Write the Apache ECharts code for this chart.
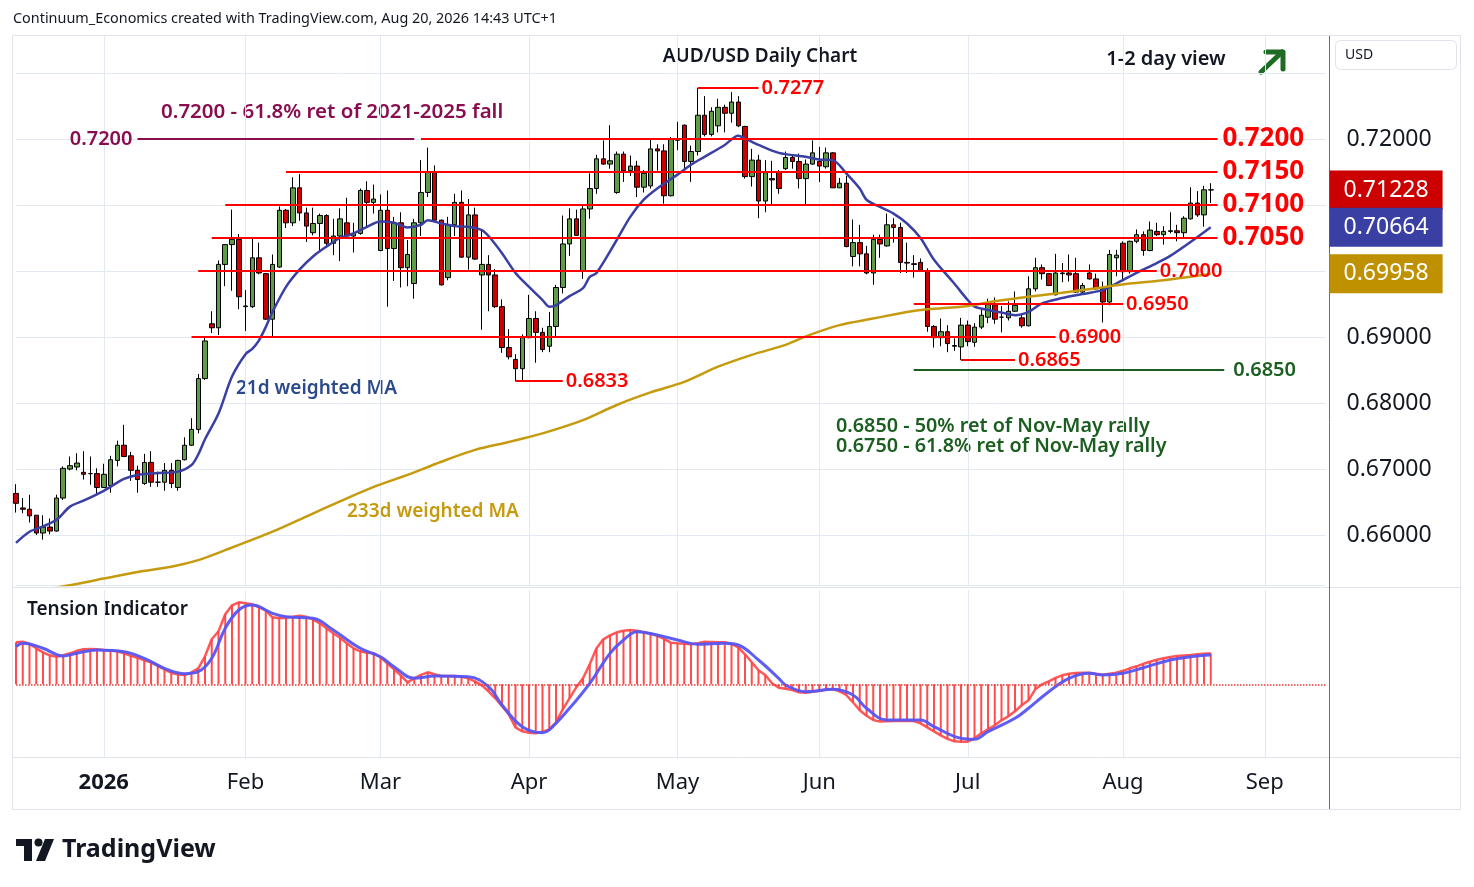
<!DOCTYPE html>
<html>
<head>
<meta charset="utf-8">
<title>AUD/USD Daily Chart</title>
<script src="https://cdn.jsdelivr.net/npm/echarts@6/dist/echarts.min.js"></script>
<style>
  html, body { margin: 0; padding: 0; background: #fff; }
  #chart { width: 1474px; height: 887px; }
</style>
</head>
<body>
<div id="chart"></div>
<script>
// daily bars, [open, close, low, high]
var decBars = [
  [0.6663,0.6648,0.6634,0.6677],[0.6641,0.6639,0.6633,0.6656],[0.6639,0.6629,0.6619,0.6661],
  [0.6630,0.6603,0.6600,0.6630],[0.6603,0.6612,0.6593,0.6630],[0.6612,0.6606,0.6601,0.6625],
  [0.6606,0.6656,0.6605,0.6661],[0.6656,0.6701,0.6653,0.6704],[0.6700,0.6705,0.6698,0.6719],
  [0.6703,0.6709,0.6698,0.6724],[0.6695,0.6692,0.6684,0.6727],[0.6693,0.6693,0.6676,0.6719],
  [0.6693,0.6672,0.6662,0.6701]
];
var janBars = [
  [0.6672,0.6692,0.6672,0.6708],[0.6675,0.6714,0.6664,0.6720],[0.6713,0.6736,0.6704,0.6743],
  [0.6736,0.6719,0.6718,0.6767],[0.6720,0.6698,0.6682,0.6726],[0.6698,0.6684,0.6664,0.6705],
  [0.6678,0.6710,0.6676,0.6723],[0.6710,0.6680,0.6673,0.6727],[0.6680,0.6680,0.6673,0.6696],
  [0.6680,0.6698,0.6667,0.6709],[0.6698,0.6678,0.6671,0.6709],[0.6672,0.6713,0.6667,0.6714],
  [0.6714,0.6736,0.6713,0.6748],[0.6736,0.6760,0.6735,0.6777],[0.6760,0.6837,0.6754,0.6844],
  [0.6837,0.6894,0.6835,0.6901],[0.6920,0.6914,0.6906,0.6939],[0.6914,0.7010,0.6903,0.7016],
  [0.7010,0.7040,0.6977,0.7040],[0.7040,0.7048,0.6970,0.7093],[0.7048,0.6961,0.6942,0.7056]
];
var febBars = [
  [0.6946,0.6947,0.6909,0.6971],[0.6946,0.7020,0.6944,0.7049],[0.7020,0.6997,0.6995,0.7043],
  [0.6996,0.6927,0.6926,0.6997],[0.6927,0.7010,0.6899,0.7025],[0.7006,0.7092,0.7005,0.7098],
  [0.7092,0.7073,0.7065,0.7094],[0.7073,0.7126,0.7068,0.7142],[0.7126,0.7088,0.7076,0.7147],
  [0.7088,0.7068,0.7044,0.7096],[0.7058,0.7072,0.7054,0.7096],[0.7072,0.7084,0.7029,0.7087],
  [0.7084,0.7042,0.7035,0.7086],[0.7042,0.7053,0.7024,0.7079],[0.7053,0.7079,0.7015,0.7095],
  [0.7073,0.7053,0.7052,0.7111],[0.7053,0.7057,0.7028,0.7073],[0.7057,0.7122,0.7055,0.7125],
  [0.7122,0.7104,0.7068,0.7136],[0.7104,0.7109,0.7087,0.7131]
];
var marBars = [
  [0.7031,0.7092,0.7030,0.7116],[0.7092,0.7034,0.6946,0.7122],[0.7034,0.7073,0.6985,0.7082],
  [0.7073,0.7005,0.6975,0.7089],[0.7005,0.7025,0.6977,0.7047],[0.6981,0.7073,0.6958,0.7079],
  [0.7073,0.7119,0.7053,0.7168],[0.7119,0.7150,0.7112,0.7187],[0.7150,0.7077,0.7076,0.7160],
  [0.7077,0.6979,0.6978,0.7078],[0.6990,0.7070,0.6986,0.7082],[0.7070,0.7104,0.7053,0.7117],
  [0.7104,0.7021,0.7020,0.7122],[0.7021,0.7085,0.7002,0.7109],[0.7085,0.7018,0.7017,0.7096],
  [0.6994,0.7010,0.6911,0.7062],[0.7010,0.6994,0.6939,0.7024],[0.6994,0.6946,0.6944,0.7003],
  [0.6946,0.6884,0.6876,0.6957],[0.6884,0.6870,0.6866,0.6912],[0.6866,0.6852,0.6833,0.6874],
  [0.6852,0.6899,0.6833,0.6904]
];
var aprBars = [
  [0.6899,0.6928,0.6898,0.6964],[0.6928,0.6907,0.6861,0.6939],[0.6907,0.6881,0.6877,0.6914],
  [0.6886,0.6916,0.6877,0.6938],[0.6916,0.6975,0.6899,0.6979],[0.6975,0.7041,0.6966,0.7084],
  [0.7041,0.7079,0.7023,0.7095],[0.7079,0.7054,0.7053,0.7093],[0.7000,0.7094,0.6988,0.7099],
  [0.7094,0.7125,0.7079,0.7148],[0.7125,0.7170,0.7117,0.7176],[0.7170,0.7162,0.7161,0.7198],
  [0.7162,0.7167,0.7155,0.7221],[0.7119,0.7177,0.7117,0.7181],[0.7177,0.7152,0.7135,0.7181],
  [0.7152,0.7159,0.7144,0.7175],[0.7159,0.7127,0.7112,0.7167],[0.7127,0.7148,0.7119,0.7153],
  [0.7129,0.7185,0.7125,0.7199],[0.7185,0.7182,0.7152,0.7192],[0.7182,0.7114,0.7102,0.7192],
  [0.7114,0.7200,0.7113,0.7203]
];
var mayBars = [
  [0.7198,0.7200,0.7183,0.7226],[0.7221,0.7166,0.7153,0.7222],[0.7166,0.7181,0.7135,0.7190],
  [0.7181,0.7236,0.7175,0.7277],[0.7236,0.7207,0.7204,0.7265],[0.7207,0.7242,0.7204,0.7248],
  [0.7220,0.7248,0.7210,0.7261],[0.7248,0.7239,0.7210,0.7252],[0.7239,0.7256,0.7225,0.7271],
  [0.7256,0.7220,0.7218,0.7265],[0.7219,0.7143,0.7140,0.7220],[0.7143,0.7168,0.7128,0.7185],
  [0.7168,0.7106,0.7080,0.7176],[0.7106,0.7149,0.7089,0.7168],[0.7140,0.7138,0.7101,0.7167],
  [0.7150,0.7125,0.7117,0.7153],[0.7155,0.7172,0.7153,0.7181],[0.7172,0.7166,0.7155,0.7175],
  [0.7166,0.7140,0.7125,0.7178],[0.7140,0.7162,0.7101,0.7169],[0.7162,0.7179,0.7161,0.7198]
];
var junBars = [
  [0.7166,0.7159,0.7135,0.7188],[0.7158,0.7179,0.7155,0.7187],[0.7179,0.7126,0.7126,0.7180],
  [0.7126,0.7133,0.7126,0.7141],[0.7133,0.7037,0.7036,0.7144],[0.7022,0.7043,0.7007,0.7078],
  [0.7043,0.7026,0.7007,0.7070],[0.7026,0.6997,0.6995,0.7038],[0.6997,0.7048,0.6979,0.7055],
  [0.7048,0.7041,0.7020,0.7055],[0.7038,0.7070,0.7037,0.7087],[0.7070,0.7066,0.7043,0.7080],
  [0.7066,0.7013,0.6997,0.7073],[0.7013,0.7012,0.6997,0.7043],[0.7011,0.7010,0.6990,0.7024],
  [0.7013,0.7000,0.6999,0.7019],[0.7000,0.6916,0.6908,0.7004],[0.6916,0.6899,0.6884,0.6918],
  [0.6899,0.6908,0.6886,0.6928],[0.6908,0.6890,0.6877,0.6918],[0.6887,0.6886,0.6879,0.6898],
  [0.6885,0.6918,0.6865,0.6929]
];
var julBars = [
  [0.6918,0.6893,0.6886,0.6925],[0.6892,0.6915,0.6885,0.6921],[0.6915,0.6933,0.6912,0.6942],
  [0.6930,0.6949,0.6921,0.6958],[0.6949,0.6927,0.6920,0.6960],[0.6930,0.6930,0.6907,0.6947],
  [0.6929,0.6939,0.6925,0.6954],[0.6939,0.6948,0.6938,0.6969],[0.6929,0.6917,0.6914,0.6936],
  [0.6917,0.6973,0.6916,0.6992],[0.6973,0.7005,0.6969,0.7020],[0.7005,0.6996,0.6987,0.7010],
  [0.6996,0.6978,0.6977,0.6997],[0.6964,0.6997,0.6963,0.7026],[0.6996,0.6997,0.6983,0.7012],
  [0.6997,0.6994,0.6984,0.7025],[0.6996,0.6968,0.6967,0.7020],[0.6968,0.6978,0.6964,0.6982],
  [0.6997,0.6988,0.6987,0.7010],[0.6988,0.6973,0.6972,0.6996],[0.6973,0.6953,0.6922,0.6984],
  [0.6953,0.7025,0.6948,0.7032],[0.7020,0.7024,0.6992,0.7032]
];
var augBars = [
  [0.7042,0.6999,0.6987,0.7045],[0.6999,0.7045,0.6996,0.7046],[0.7045,0.7055,0.7042,0.7063],
  [0.7055,0.7031,0.7023,0.7060],[0.7031,0.7062,0.7030,0.7075],[0.7060,0.7055,0.7053,0.7073],
  [0.7055,0.7060,0.7040,0.7068],[0.7060,0.7061,0.7057,0.7089],[0.7061,0.7058,0.7045,0.7070],
  [0.7058,0.7080,0.7050,0.7083],[0.7079,0.7103,0.7078,0.7127],[0.7103,0.7085,0.7082,0.7121],
  [0.7085,0.7123,0.7067,0.7129],[0.7123,0.71228,0.7103,0.7133]
];

// moving averages, [bar index, value]
var wma21 = [
  [0,0.6588],[2,0.6605],[4,0.6613],[6,0.6623],[8,0.6643],[10,0.6652],[13,0.6667],[16,0.6685],
  [18,0.6691],[21,0.6694],[24,0.6696],[26,0.6706],[27,0.6722],[28,0.6745],[30,0.6784],[32,0.6840],
  [34,0.6874],[35,0.6882],[36,0.6895],[37,0.6915],[38,0.6938],[40,0.6976],[42,0.7002],[44,0.7022],
  [46,0.7037],[48,0.7050],[50,0.7057],[52,0.7067],[54,0.7075],[56,0.7073],[58,0.7066],[60,0.7070],
  [61,0.7077],[63,0.7072],[65,0.7068],[67,0.7067],[69,0.7062],[70,0.7053],[72,0.7027],[74,0.6997],
  [76,0.6976],[78,0.6956],[79,0.6946],[80,0.6948],[82,0.6962],[84,0.6974],[85,0.6991],[86,0.6997],
  [89,0.7047],[91,0.7082],[93,0.7108],[95,0.7125],[98,0.7146],[100,0.7161],[102,0.7173],[105,0.7191],
  [107,0.7205],[108,0.7201],[110,0.7191],[113,0.7179],[117,0.7173],[119,0.7169],[121,0.7168],
  [123,0.7148],[125,0.7125],[126,0.7108],[128,0.7097],[130,0.7087],[132,0.7072],[134,0.7050],
  [136,0.7017],[139,0.6981],[141,0.6956],[142,0.6946],[144,0.6941],[146,0.6937],[148,0.6933],
  [150,0.6938],[152,0.6951],[155,0.6959],[158,0.6965],[161,0.6971],[163,0.6981],[166,0.6997],
  [169,0.7012],[171,0.7023],[174,0.7044],[177,0.70664]
];
var wma233 = [
  [4,0.6517],[8,0.6524],[13,0.6534],[18,0.6544],[23,0.6552],[27,0.6562],[31,0.6577],[38,0.6605],
  [43,0.6628],[48,0.6651],[53,0.6673],[58,0.6691],[63,0.6711],[68,0.6729],[73,0.6741],[78,0.6754],
  [84,0.6774],[89,0.6797],[94,0.6816],[99,0.6832],[104,0.6855],[109,0.6873],[114,0.6888],
  [117,0.6901],[122,0.6918],[127,0.6928],[132,0.6938],[135,0.6942],[141,0.6947],[145,0.6954],
  [150,0.6961],[155,0.6967],[160,0.6974],[165,0.6981],[170,0.6986],[177,0.69958]
];

// tension indicator, one value per bar, plus its signal line
var tension = [
  42,42.5,40.5,36,32,29,27.6,29,31,33.5,35,35.3,35,34.3,33.8,33,31,28.5,26.6,24,
  22,18.5,15,11.5,9.8,9.3,12,16,28,45,53,70,79,82,81,80,77,74,67,66,
  66.5,67.5,68.6,67.5,65,61,56,51,46.5,41,36,33,31.5,31,27,21,15,9,2,6,
  9.5,12,10,8.3,8.3,8.3,7.5,6,3,-1,-7,-14,-22,-30,-43,-47,-48.5,-49,-47.5,-45,
  -38,-25,-14,-3,6,20,36,45,49,52,53.5,54.3,53.5,52,50.5,48.6,45.5,41.6,41,40.5,
  40,41,42.5,42.3,42,42,40.5,37,30,22,14,9.3,1,-3.5,-4.5,-5.7,-8,-8.5,-7.5,-6.7,
  -5.5,-4.7,-7,-10.7,-18,-26,-31.5,-35.7,-37.3,-37,-36.7,-36.7,-36.7,-36.7,-39,-43,-47,-51,-54.5,-57,
  -57.4,-57.4,-54,-49,-45,-41,-36,-32,-27,-21,-16,-5,0,3,6.5,9,10.5,11.2,11.5,11.6,
  10.5,9.5,10.5,11.5,13.5,16,18,20.5,22.6,24.5,26,27.3,28.2,28.8,29.3,30,30.5,31
];
var signal = [
  [0,37.6],[1,41],[4,36],[7,28.3],[9,31],[12,34.3],[16,32.6],[19,26],[22,16],[25,10.6],[27,12.6],
  [29,26],[31,56],[33,74.3],[35,79.3],[38,71],[40,67.6],[44,66],[47,54.3],[51,36],[54,27.6],
  [56,17.6],[59,6],[62,8.3],[67,7.6],[70,-2.3],[72,-20.7],[75,-42.4],[78,-48.4],[79,-45.7],
  [82,-24],[85,1],[88,31],[90,44.3],[92,52.6],[95,49.3],[98,44.3],[101,40],[105,41],[107,39.3],
  [110,24.3],[113,6],[114,-0.7],[117,-7.4],[121,-5],[124,-10.7],[126,-24],[129,-35.7],[134,-35.7],
  [136,-42.4],[140,-54],[142,-55],[144,-47.4],[148,-34],[150,-24],[153,-7.4],[156,6],[159,11],
  [161,9.3],[164,11],[167,16.6],[171,24.3],[174,27.6],[177,29.3]
];

// drawn levels: [price, first bar, last bar]
var majorLevels = [[0.7200, 60, 178], [0.7150, 40, 178], [0.7100, 31, 178], [0.7050, 29, 178]];
var minorLevels = [[0.7000, 27, 169], [0.6950, 133, 164], [0.6900, 26, 154], [0.6865, 140, 148],
                   [0.7277, 101, 110], [0.6833, 74, 81]];
var retLevel = [0.7200, 18, 59];
var fibLevel = [0.6850, 133, 179];

var priceTicks = [0.66, 0.67, 0.68, 0.69, 0.70, 0.71, 0.72];
var monthNames = ['Jan','Feb','Mar','Apr','May','Jun','Jul','Aug','Sep','Oct','Nov','Dec'];

// weekday calendar from 12 Dec 2025, no bars on 25 Dec and 1 Jan
var holidays = ['2025-12-25', '2026-01-01'];
var dates = [];
var t = Date.UTC(2025, 11, 12);
while (dates.length < 195) {
  var d = new Date(t);
  var s = d.toISOString().slice(0, 10);
  if (d.getUTCDay() % 6 !== 0 && holidays.indexOf(s) < 0) dates.push(s);
  t += 86400000;
}
function monthStart(i) {
  return i > 0 && dates[i].slice(5, 7) !== dates[i - 1].slice(5, 7);
}

var bars = [].concat(decBars, janBars, febBars, marBars, aprBars, mayBars, junBars, julBars, augBars);
var lastClose = bars[bars.length - 1][1];
var lastWma21 = wma21[wma21.length - 1][1];
var lastWma233 = wma233[wma233.length - 1][1];

var FONT = '"Noto Sans", "DejaVu Sans", sans-serif';

function seg(l, color, label) {
  return [{ coord: [l[1], l[0]], lineStyle: { color: color, width: 2, type: 'solid' }, label: label },
          { coord: [l[2], l[0]] }];
}
function tag(value, bg) {
  return {
    yAxis: value,
    lineStyle: { color: 'rgba(0,0,0,0)', width: 1 },
    label: {
      show: true, position: 'end', distance: 4, formatter: value.toFixed(5),
      backgroundColor: bg, color: '#ffffff', fontSize: 23, fontFamily: FONT,
      padding: [8, 14, 8, 14], opacity: 1
    }
  };
}

var levelData = [];
majorLevels.forEach(function (l) {
  levelData.push(seg(l, '#ff0000', { show: true, position: 'end', distance: 5, formatter: l[0].toFixed(4),
    color: '#ff0000', fontSize: 26, fontWeight: 'bold', fontFamily: FONT }));
});
minorLevels.forEach(function (l) {
  levelData.push(seg(l, '#ff0000', { show: true, position: 'end', distance: 3, formatter: l[0].toFixed(4),
    color: '#ff0000', fontSize: 20, fontWeight: 600, fontFamily: FONT }));
});
levelData.push(seg(retLevel, '#880e4f', { show: true, position: 'start', distance: 5,
  formatter: retLevel[0].toFixed(4), color: '#880e4f', fontSize: 20, fontWeight: 600, fontFamily: FONT }));
levelData.push(seg(fibLevel, '#1b5e20', { show: true, position: 'end', distance: 9,
  formatter: fibLevel[0].toFixed(4), color: '#1b5e20', fontSize: 20, fontWeight: 600, fontFamily: FONT }));
levelData.push(tag(lastClose, '#cc0000'));

var chart = echarts.init(document.getElementById('chart'));

var option = {
  animation: false,
  backgroundColor: '#ffffff',
  textStyle: { fontFamily: FONT },
  grid: [
    { left: 16, right: 148.5, top: 35, height: 550, outerBoundsMode: 'none' },
    { left: 16, right: 148.5, top: 590, height: 167, outerBoundsMode: 'none' }
  ],
  xAxis: [
    {
      type: 'category', gridIndex: 0, data: dates, boundaryGap: false,
      axisLine: { show: false }, axisTick: { show: false }, axisLabel: { show: false },
      splitLine: { show: true, interval: monthStart, lineStyle: { color: '#e3e9f0', width: 1 } }
    },
    {
      type: 'category', gridIndex: 1, data: dates, boundaryGap: false,
      axisLine: { show: false }, axisTick: { show: false },
      axisLabel: {
        show: true, interval: monthStart, margin: 15, color: '#131722', fontSize: 22,
        formatter: function (v) {
          var m = +v.slice(5, 7);
          return m === 1 ? '{y|' + v.slice(0, 4) + '}' : monthNames[m - 1];
        },
        rich: { y: { fontSize: 22, fontWeight: 'bold', color: '#131722' } }
      },
      splitLine: { show: true, interval: monthStart, lineStyle: { color: '#e3e9f0', width: 1 } }
    }
  ],
  yAxis: [
    {
      type: 'value', gridIndex: 0, position: 'right', scale: true,
      min: 0.652424, max: 0.735758, splitNumber: 8,
      axisLine: { show: false },
      axisTick: { show: false },
      axisLabel: {
        show: true, customValues: priceTicks, margin: 21, color: '#131722', fontSize: 23,
        formatter: function (v) { return v.toFixed(5); }
      },
      splitLine: { show: true, lineStyle: { color: '#e3e9f0', width: 1 } }
    },
    {
      type: 'value', gridIndex: 1, min: -72.7, max: 94.3,
      axisLine: { show: false }, axisTick: { show: false }, axisLabel: { show: false },
      splitLine: { show: false }
    }
  ],
  series: [
    {
      name: 'AUD/USD', type: 'candlestick', xAxisIndex: 0, yAxisIndex: 0,
      data: bars, barWidth: 5, clip: false, z: 3,
      itemStyle: {
        color: '#5e9c48', color0: '#cc0000',
        borderColor: '#000000', borderColor0: '#000000', borderWidth: 1
      },
      markLine: { symbol: 'none', silent: true, precision: 5, z: 6, data: levelData }
    },
    {
      name: '21d weighted MA', type: 'line', xAxisIndex: 0, yAxisIndex: 0,
      data: wma21, smooth: 0.3, showSymbol: false, z: 4,
      lineStyle: { color: '#3a3fa3', width: 2.5 },
      markLine: { symbol: 'none', silent: true, precision: 5, z: 6, data: [tag(lastWma21, '#3a3fa3')] }
    },
    {
      name: '233d weighted MA', type: 'line', xAxisIndex: 0, yAxisIndex: 0,
      data: wma233, smooth: 0.3, showSymbol: false, z: 4,
      lineStyle: { color: '#c69a0e', width: 2.5 },
      markLine: { symbol: 'none', silent: true, precision: 5, z: 6, data: [tag(lastWma233, '#bf9000')] }
    },
    {
      name: 'Tension hist', type: 'bar', xAxisIndex: 1, yAxisIndex: 1,
      data: tension, barWidth: 2, z: 2,
      itemStyle: { color: 'rgba(255,45,45,0.85)' },
      markLine: {
        symbol: 'none', silent: true,
        lineStyle: { color: '#e53935', type: 'dotted', width: 1.5 },
        label: { show: false },
        data: [{ yAxis: 0 }]
      }
    },
    {
      name: 'Tension', type: 'line', xAxisIndex: 1, yAxisIndex: 1,
      data: tension, showSymbol: false, z: 3,
      lineStyle: { color: 'rgba(255,70,70,0.9)', width: 2.5 }
    },
    {
      name: 'Signal', type: 'line', xAxisIndex: 1, yAxisIndex: 1,
      data: signal, smooth: 0.4, showSymbol: false, z: 4,
      lineStyle: { color: 'rgba(85,85,245,0.95)', width: 3 }
    }
  ],
  graphic: [
    { type: 'rect', silent: true, z: 1, shape: { x: 12.5, y: 35.5, width: 1448, height: 774 },
      style: { fill: 'none', stroke: '#e0e3eb', lineWidth: 1 } },
    { type: 'line', silent: true, shape: { x1: 12, y1: 587.5, x2: 1461, y2: 587.5 },
      style: { stroke: '#e0e3eb', lineWidth: 1 } },
    { type: 'line', silent: true, shape: { x1: 12, y1: 757.5, x2: 1461, y2: 757.5 },
      style: { stroke: '#e0e3eb', lineWidth: 1 } },
    { type: 'line', silent: true, shape: { x1: 1329.5, y1: 35, x2: 1329.5, y2: 810 },
      style: { stroke: '#6a6d78', lineWidth: 1 } },
    { type: 'rect', silent: true, shape: { x: 1335.5, y: 40.5, width: 121, height: 29, r: 5 },
      style: { fill: '#fff', stroke: '#e0e3eb', lineWidth: 1 } },
    { type: 'text', silent: true, x: 1345, y: 55,
      style: { text: 'USD', fill: '#131722', font: '14px ' + FONT, verticalAlign: 'middle', textVerticalAlign: 'middle' } },
    { type: 'text', silent: true, x: 13, y: 19,
      style: { text: 'Continuum_Economics created with TradingView.com, Aug 20, 2026 14:43 UTC+1',
               fill: '#131722', font: '14.4px ' + FONT, verticalAlign: 'middle', textVerticalAlign: 'middle' } },
    { type: 'text', silent: true, x: 760, y: 57,
      style: { text: 'AUD/USD Daily Chart', fill: '#131722', font: '600 19px ' + FONT,
               align: 'center', textAlign: 'center', verticalAlign: 'middle', textVerticalAlign: 'middle' } },
    { type: 'text', silent: true, x: 1166, y: 59,
      style: { text: '1-2 day view', fill: '#131722', font: '600 20px ' + FONT,
               align: 'center', textAlign: 'center', verticalAlign: 'middle', textVerticalAlign: 'middle' } },
    { type: 'polyline', silent: true, shape: { points: [[1261, 72], [1282, 52]] },
      style: { stroke: '#1e6b24', lineWidth: 5, lineCap: 'round' } },
    { type: 'polyline', silent: true, shape: { points: [[1266, 52], [1283, 52], [1283, 69]] },
      style: { stroke: '#1e6b24', lineWidth: 5, lineCap: 'round', lineJoin: 'round', fill: 'none' } },
    { type: 'text', silent: true, x: 161, y: 112,
      style: { text: '0.7200 - 61.8% ret of 2021-2025 fall', fill: '#880e4f', font: '600 20.5px ' + FONT,
               verticalAlign: 'middle', textVerticalAlign: 'middle' } },
    { type: 'text', silent: true, x: 236, y: 389,
      style: { text: '21d weighted MA', fill: '#2b4a8c', font: '600 19px ' + FONT,
               verticalAlign: 'middle', textVerticalAlign: 'middle' } },
    { type: 'text', silent: true, x: 347, y: 512,
      style: { text: '233d weighted MA', fill: '#c69a0e', font: '600 19px ' + FONT,
               verticalAlign: 'middle', textVerticalAlign: 'middle' } },
    { type: 'text', silent: true, x: 836, y: 426,
      style: { text: '0.6850 - 50% ret of Nov-May rally', fill: '#1b5e20', font: '600 19.8px ' + FONT,
               verticalAlign: 'middle', textVerticalAlign: 'middle' } },
    { type: 'text', silent: true, x: 836, y: 446,
      style: { text: '0.6750 - 61.8% ret of Nov-May rally', fill: '#1b5e20', font: '600 19.8px ' + FONT,
               verticalAlign: 'middle', textVerticalAlign: 'middle' } },
    { type: 'text', silent: true, x: 27, y: 610,
      style: { text: 'Tension Indicator', fill: '#131722', font: '600 19px ' + FONT,
               verticalAlign: 'middle', textVerticalAlign: 'middle' } },
    { type: 'rect', silent: true, shape: { x: 16, y: 839, width: 16, height: 7 }, style: { fill: '#131722' } },
    { type: 'rect', silent: true, shape: { x: 24, y: 839, width: 8, height: 22 }, style: { fill: '#131722' } },
    { type: 'circle', silent: true, shape: { cx: 38.5, cy: 842.5, r: 4 }, style: { fill: '#131722' } },
    { type: 'polygon', silent: true, shape: { points: [[45, 839], [54, 839], [45, 861], [36, 861]] },
      style: { fill: '#131722' } },
    { type: 'text', silent: true, x: 62, y: 850,
      style: { text: 'TradingView', fill: '#131722', font: 'bold 25px ' + FONT,
               verticalAlign: 'middle', textVerticalAlign: 'middle' } }
  ]
};

chart.setOption(option);
</script>
</body>
</html>
